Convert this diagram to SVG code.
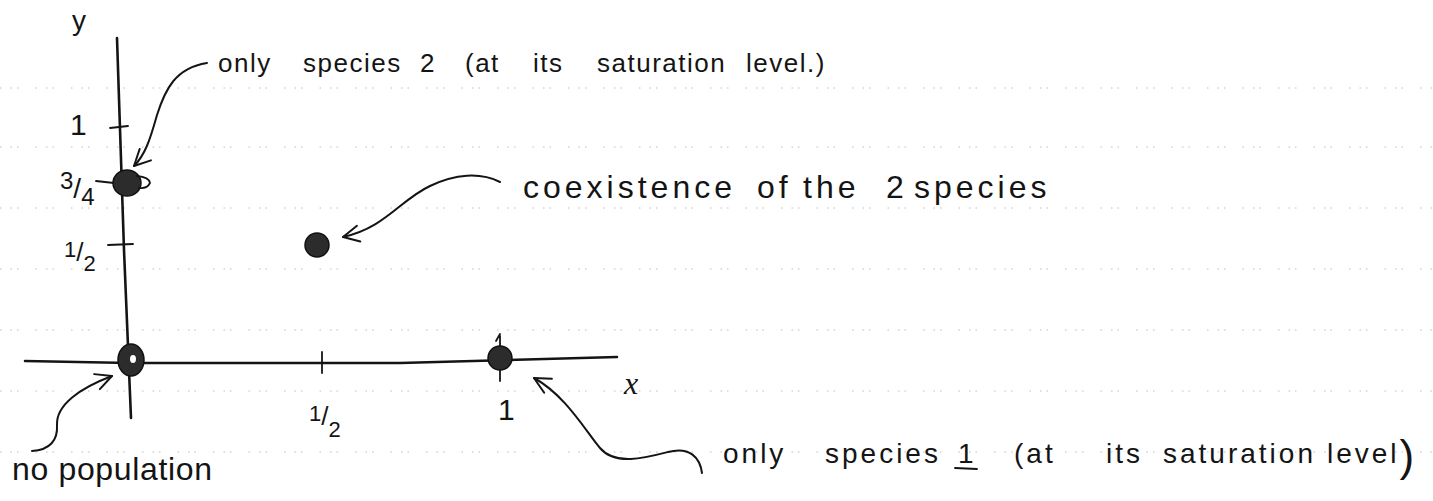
<svg xmlns="http://www.w3.org/2000/svg" width="1433" height="501" viewBox="0 0 1433 501">
<style>
  .rule{stroke:#bdbdbd;stroke-width:1;stroke-dasharray:1.5 9 1.5 5 1.5 17;fill:none}
  .ink{stroke:#141414;fill:none;stroke-linecap:round;stroke-linejoin:round}
  .axis{stroke-width:2.6}
  .tick{stroke-width:1.8}
  .conn{stroke-width:2}
  .dot{fill:#2c2c2c;stroke:#111;stroke-width:1.5}
  .hand{font-family:"Liberation Sans","DejaVu Sans",sans-serif;fill:#141414;letter-spacing:3px}
  .lab{font-family:"Liberation Sans","DejaVu Sans",sans-serif;fill:#141414}
  .var{font-family:"Liberation Serif","DejaVu Serif",serif;font-style:italic;fill:#141414}
</style>
<defs>
  <marker id="open" viewBox="0 0 20 20" refX="18" refY="10" markerWidth="20" markerHeight="20" markerUnits="userSpaceOnUse" orient="auto">
    <path d="M2,2 L18,10 L2,18" fill="none" stroke="#141414" stroke-width="2" stroke-linecap="round" stroke-linejoin="round"/>
  </marker>
</defs>
<rect width="1433" height="501" fill="#ffffff"/>
<g id="ruled-paper">
  <line class="rule" x1="0" y1="88" x2="1433" y2="88"/>
  <line class="rule" x1="0" y1="147" x2="1433" y2="147"/>
  <line class="rule" x1="0" y1="208" x2="1433" y2="208"/>
  <line class="rule" x1="0" y1="269" x2="1433" y2="269"/>
  <line class="rule" x1="0" y1="330" x2="1433" y2="330"/>
  <line class="rule" x1="0" y1="391" x2="1433" y2="391"/>
  <line class="rule" x1="0" y1="452" x2="1433" y2="452"/>
</g>
<g id="axes">
  <path class="ink axis" d="M117,38 L124,250 L131,418"/>
  <path class="ink axis" d="M25,361 L130,363 L400,363 L617,357"/>
  <path class="ink tick" d="M110,128 L128,126"/>
  <path class="ink tick" d="M108,245 L133,244"/>
  <path class="ink tick" d="M322,352 L322,373"/>
  <path class="ink tick" d="M500,336 L500,381 M496,341 L500,334"/>
  <text class="lab" x="72" y="30" font-size="28">y</text>
  <text class="var" x="624" y="394" font-size="32">x</text>
  <text class="lab" x="70" y="135" font-size="30">1</text>
  <text class="lab" x="60" y="189"><tspan font-size="24">3</tspan><tspan font-size="28" dy="9">/</tspan><tspan font-size="24" dy="7">4</tspan></text>
  <text class="lab" x="64" y="257"><tspan font-size="22">1</tspan><tspan font-size="26" dy="4">/</tspan><tspan font-size="22" dy="10">2</tspan></text>
  <text class="lab" x="309" y="421"><tspan font-size="22">1</tspan><tspan font-size="26" dy="4">/</tspan><tspan font-size="22" dy="12">2</tspan></text>
  <text class="lab" x="498" y="420" font-size="30">1</text>
</g>
<g id="node-origin">
  <ellipse class="dot" cx="131" cy="360" rx="13" ry="16"/>
  <ellipse cx="133" cy="359" rx="3" ry="4" fill="#ffffff"/>
  <text class="hand" x="12" y="480" font-size="32" textLength="203" lengthAdjust="spacing">no population</text>
</g>
<g id="node-species2">
  <path class="ink tick" d="M96,181 L114,183"/>
  <ellipse class="dot" cx="127" cy="183" rx="14" ry="13"/>
  <path class="ink tick" d="M137,176 Q149,177 150,183 Q147,189 139,188"/>
  <text class="hand" y="72" font-size="26" style="letter-spacing:1.5px"><tspan x="218">only</tspan> <tspan x="303">species</tspan> <tspan x="420">2</tspan> <tspan x="465">(at</tspan> <tspan x="533">its</tspan> <tspan x="597">saturation</tspan> <tspan x="746">level.)</tspan></text>
</g>
<g id="node-coexistence">
  <ellipse class="dot" cx="317" cy="245" rx="12" ry="12"/>
  <text class="hand" y="198" font-size="32" style="letter-spacing:4px"><tspan x="523">coexistence</tspan> <tspan x="757">of</tspan> <tspan x="803">the</tspan> <tspan x="886">2</tspan> <tspan x="914">species</tspan></text>
</g>
<g id="node-species1">
  <ellipse class="dot" cx="500" cy="358" rx="12" ry="12"/>
  <text class="hand" y="463" font-size="28"><tspan x="723">only</tspan> <tspan x="825">species</tspan> <tspan x="958">1</tspan> <tspan x="1014">(at</tspan> <tspan x="1106">its</tspan> <tspan x="1163">saturation</tspan> <tspan x="1327">level</tspan><tspan font-size="44" dy="8">)</tspan></text>
  <path class="ink tick" d="M955,468 L977,469"/>
</g>
<g id="connectors">
  <path class="ink conn" marker-end="url(#open)" d="M207,63 C175,68 165,90 157,115 C150,140 145,155 134,166"/>
  <path class="ink conn" marker-end="url(#open)" d="M500,182 C480,172 455,174 430,186 C400,200 385,228 343,237"/>
  <path class="ink conn" marker-end="url(#open)" d="M32,451 C50,450 58,440 57,425 C56,405 80,388 112,376"/>
  <path class="ink conn" marker-end="url(#open)" d="M702,473 C700,458 690,446 668,452 C645,458 615,466 600,448 C585,430 565,395 534,378"/>
</g>
</svg>
